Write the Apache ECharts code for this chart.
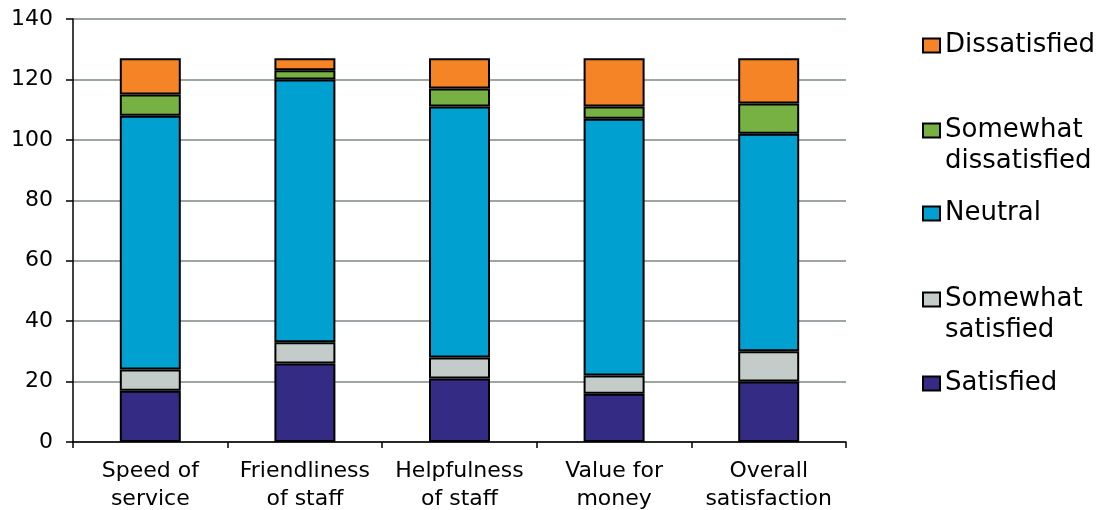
<!DOCTYPE html>
<html>
<head>
<meta charset="utf-8">
<script src="https://cdn.jsdelivr.net/npm/echarts@6/dist/echarts.min.js"></script>
<style>
  html, body { margin: 0; padding: 0; background: #fff; }
  #chart { width: 1102px; height: 510px; }
</style>
</head>
<body>
<div id="chart"></div>
<script>
// categories along the x axis
const categories = ['Speed of\nservice', 'Friendliness\nof staff', 'Helpfulness\nof staff', 'Value for\nmoney', 'Overall\nsatisfaction']
const yTicks = { min: 0, max: 140, step: 20 }

// stacked values, bottom to top
const satisfied = [17, 26, 21, 16, 20]
const somewhatSatisfied = [7, 7, 7, 6, 10]
const neutral = [84, 87, 83, 85, 72]
const somewhatDissatisfied = [7, 3, 6, 4, 10]
const dissatisfied = [12, 4, 10, 16, 15]

const FONT = 'DejaVu Sans'

// two-line legend names get an empty first line so the box sits next to the first text line
const seriesDefs = [
  { name: 'Satisfied', data: satisfied, color: '#342B84', legendTop: 368, twoLines: false },
  { name: 'Somewhat\nsatisfied', data: somewhatSatisfied, color: '#C4CCC9', legendTop: 253, twoLines: true },
  { name: 'Neutral', data: neutral, color: '#00A0D1', legendTop: 198, twoLines: false },
  { name: 'Somewhat\ndissatisfied', data: somewhatDissatisfied, color: '#78B143', legendTop: 84, twoLines: true },
  { name: 'Dissatisfied', data: dissatisfied, color: '#F58426', legendTop: 30, twoLines: false }
]

const chart = echarts.init(document.getElementById('chart'))

const option = {
  animation: false,
  textStyle: { fontFamily: FONT },
  grid: {
    left: 73,
    right: 256,
    top: 19,
    bottom: 68,
    containLabel: false,
    outerBoundsMode: 'none'
  },
  // one legend per item so the uneven spacing of the original can be kept
  legend: seriesDefs.map(s => ({
    data: [s.name],
    orient: 'vertical',
    left: 922,
    top: s.legendTop,
    padding: 0,
    icon: 'rect',
    itemWidth: 17,
    itemHeight: 14,
    selectedMode: false,
    formatter: s.twoLines ? (n => '\n' + n) : '{name}',
    textStyle: {
      fontFamily: FONT,
      fontSize: 26,
      lineHeight: 31,
      color: '#000'
    }
  })),
  xAxis: {
    type: 'category',
    data: categories,
    axisLine: { lineStyle: { color: '#000', width: 1.5 } },
    axisTick: { show: true, length: 6, lineStyle: { color: '#000', width: 1.5 } },
    axisLabel: {
      color: '#000',
      fontFamily: FONT,
      fontSize: 22,
      lineHeight: 28,
      margin: 15,
      interval: 0
    },
    splitLine: { show: false }
  },
  yAxis: {
    type: 'value',
    min: yTicks.min,
    max: yTicks.max,
    interval: yTicks.step,
    axisLine: { show: true, lineStyle: { color: '#000', width: 1.5 } },
    axisTick: { show: true, length: 7, lineStyle: { color: '#000', width: 1.5 } },
    axisLabel: {
      color: '#000',
      fontFamily: FONT,
      fontSize: 22,
      margin: 20
    },
    splitLine: {
      show: true,
      lineStyle: { color: '#9DA79F', width: 2 }
    }
  },
  series: seriesDefs.map(s => ({
    name: s.name,
    type: 'bar',
    stack: 'total',
    barWidth: 61,
    data: s.data,
    itemStyle: {
      color: s.color,
      borderColor: '#000',
      borderWidth: 2
    }
  }))
}

chart.setOption(option)
</script>
</body>
</html>
